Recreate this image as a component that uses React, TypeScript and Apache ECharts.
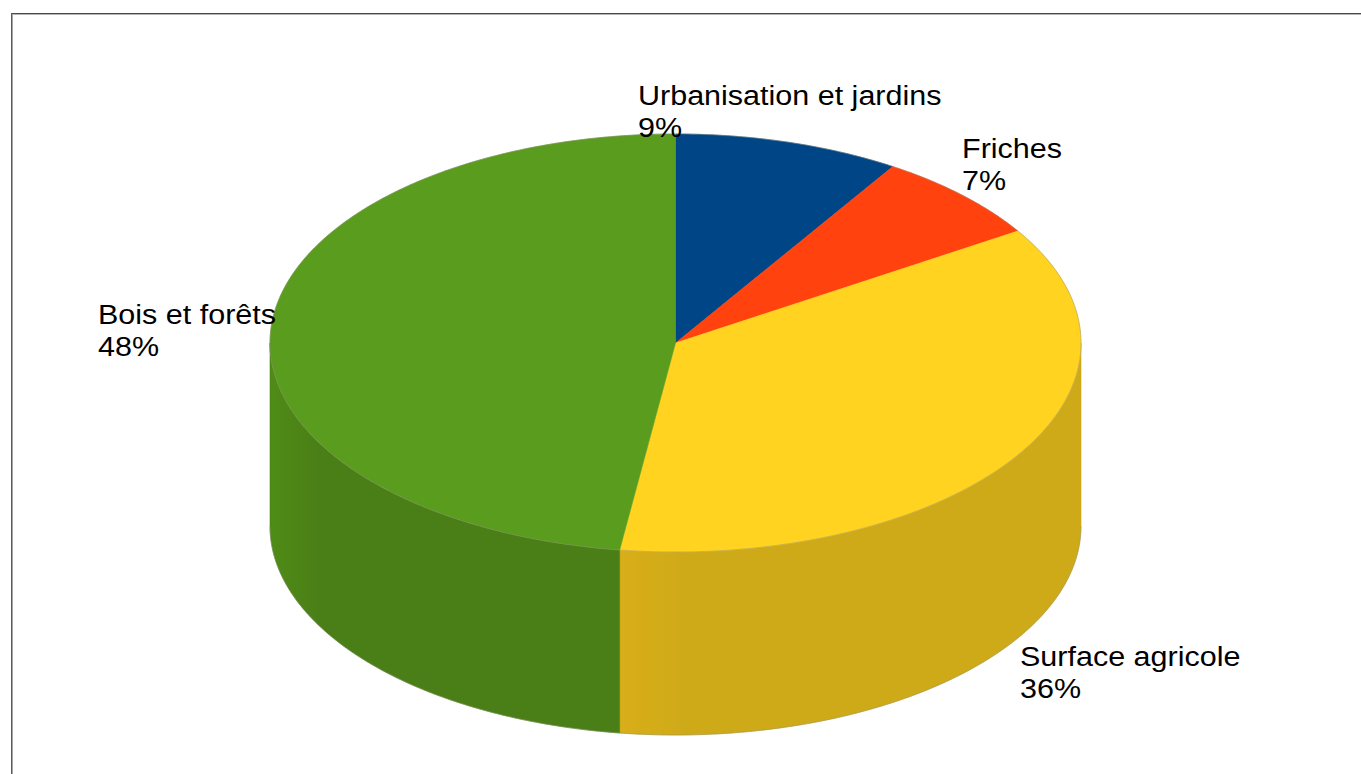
import React, { useEffect, useRef } from "react";
import * as echarts from "echarts";

const categories = ["Urbanisation et jardins", "Friches", "Surface agricole", "Bois et forêts"];
const values = [9, 7, 36.2, 47.8];
const topColors = ["#004586", "#ff420e", "#ffd320", "#5a9c1d"];
const sideColors = ["#003a70", "#d63a10", "#cfaa18", "#4a7f17"];
const sideEdgeColors = ["#003a70", "#d63a10", "#d9ae19", "#4f8c16"];
const labelSpots = [
  [638, 79],
  [962, 132],
  [1020, 640],
  [98, 298],
];

const CX = 675.5;
const CY = 343;
const RX = 405.5;
const RY = 209;
const DEPTH = 183;
const TAU = Math.PI * 2;
const total = values.reduce((a, b) => a + b, 0);

const startOf = (i: number) =>
  (values.slice(0, i).reduce((a, b) => a + b, 0) / total) * TAU;
const pt = (a: number, dy = 0): number[] => [
  CX + RX * Math.sin(a),
  CY + dy - RY * Math.cos(a),
];
const arc = (a: number, b: number, dy = 0): number[][] => {
  const n = Math.max(2, Math.ceil(Math.abs(b - a) / 0.01));
  const out: number[][] = [];
  for (let k = 0; k <= n; k++) out.push(pt(a + ((b - a) * k) / n, dy));
  return out;
};
const edgeStyle = { fill: "none", stroke: "#8d8d78", lineWidth: 0.8, opacity: 0.55 };

const renderSide = (params: any) => {
  const i = params.dataIndex;
  const a = Math.max(startOf(i), Math.PI / 2);
  const b = Math.min(startOf(i + 1), (Math.PI * 3) / 2);
  if (b <= a) return { type: "group", children: [] };
  const fill = new echarts.graphic.LinearGradient(0, 0, 1, 0, [
    { offset: 0, color: sideEdgeColors[i] },
    { offset: 0.14, color: sideColors[i] },
    { offset: 1, color: sideColors[i] },
  ]);
  return {
    type: "group",
    children: [
      {
        type: "polygon",
        shape: { points: [...arc(a, b), ...arc(b, a, DEPTH)] },
        style: { fill, stroke: sideColors[i], lineWidth: 0.6 },
      },
      { type: "polyline", shape: { points: arc(a, b, DEPTH) }, style: edgeStyle },
    ],
  };
};

const renderTop = (params: any) => {
  const i = params.dataIndex;
  const a = startOf(i);
  const b = startOf(i + 1);
  return {
    type: "group",
    children: [
      {
        type: "polygon",
        shape: { points: [[CX, CY], ...arc(a, b)] },
        style: { fill: topColors[i], stroke: topColors[i], lineWidth: 0.6 },
      },
      { type: "polyline", shape: { points: arc(a, b) }, style: edgeStyle },
    ],
  };
};

const renderLabel = (params: any) => {
  const i = params.dataIndex;
  return {
    type: "text",
    x: labelSpots[i][0],
    y: labelSpots[i][1],
    scaleX: 1.09,
    style: {
      text: `${categories[i]}\n${Math.round((values[i] / total) * 100)}%`,
      font: '28px "Liberation Sans"',
      lineHeight: 32,
      fill: "#000000",
    },
  };
};

export default function App() {
  const ref = useRef<HTMLDivElement>(null);
  useEffect(() => {
    document.body.style.margin = "0";
    document.body.style.overflow = "hidden";
    const chart = echarts.init(ref.current!, undefined, { renderer: "svg" });
    chart.setOption({
      animation: false,
      backgroundColor: "#ffffff",
      graphic: [
        { type: "line", shape: { x1: 11, y1: 13.5, x2: 1361, y2: 13.5 }, style: { stroke: "#4a4a4a", lineWidth: 1 } },
        { type: "line", shape: { x1: 11, y1: 14.5, x2: 1361, y2: 14.5 }, style: { stroke: "#b5b5b5", lineWidth: 1 } },
        { type: "line", shape: { x1: 11.5, y1: 13, x2: 11.5, y2: 774 }, style: { stroke: "#5a5a5a", lineWidth: 1 } },
        { type: "line", shape: { x1: 12.5, y1: 14, x2: 12.5, y2: 774 }, style: { stroke: "#a8a8a8", lineWidth: 1 } },
      ],
      series: [
        { type: "custom", coordinateSystem: "none", z: 1, data: values, renderItem: renderSide, silent: true },
        { type: "custom", coordinateSystem: "none", z: 2, data: values, renderItem: renderTop, silent: true },
        { type: "custom", coordinateSystem: "none", z: 3, data: values, renderItem: renderLabel, silent: true },
      ],
    });
    return () => chart.dispose();
  }, []);
  return <div ref={ref} style={{ width: 1361, height: 774 }} />;
}
